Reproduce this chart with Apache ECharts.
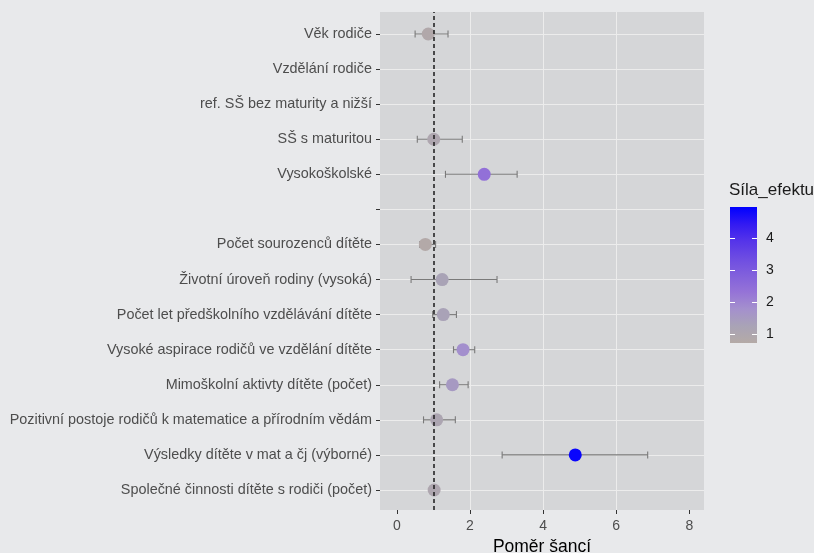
<!DOCTYPE html>
<html>
<head>
<meta charset="utf-8">
<script src="https://cdn.jsdelivr.net/npm/echarts@6/dist/echarts.min.js"></script>
<style>
html,body{margin:0;padding:0;background:#e8e9eb;}
#c{width:814px;height:553px;}
</style>
</head>
<body>
<div id="c"></div>
<script>
const categories = [
  'Věk rodiče',
  'Vzdělání rodiče',
  'ref. SŠ bez maturity a nižší',
  'SŠ s maturitou',
  'Vysokoškolské',
  '',
  'Počet sourozenců dítěte',
  'Životní úroveň rodiny (vysoká)',
  'Počet let předškolního vzdělávání dítěte',
  'Vysoké aspirace rodičů ve vzdělání dítěte',
  'Mimoškolní aktivty dítěte (počet)',
  'Pozitivní postoje rodičů k matematice a přírodním vědám',
  'Výsledky dítěte v mat a čj (výborné)',
  'Společné činnosti dítěte s rodiči (počet)'
];
const oddsRatio = [0.86, null, null, 1.01, 2.39, null, 0.78, 1.24, 1.27, 1.81, 1.52, 1.09, 4.88, 1.02];
const ciLow     = [0.50, null, null, 0.56, 1.33, null, 0.63, 0.39, 0.98, 1.55, 1.17, 0.73, 2.88, 0.95];
const ciHigh    = [1.40, null, null, 1.79, 3.29, null, 1.06, 2.74, 1.63, 2.13, 1.95, 1.60, 6.86, 1.10];
const effectStrength = [0.86, null, null, 1.01, 2.39, null, 0.78, 1.24, 1.27, 1.81, 1.52, 1.09, 4.88, 1.02];
const xTicks = [0, 2, 4, 6, 8];
const legendTicks = [1, 2, 3, 4];
const referenceLine = 1;
const xTitle = 'Poměr šancí';
const legendTitle = 'Síla_efektu';
const effectMin = 0.72, effectMax = 4.98;
const xMin = -0.46, xMax = 8.40;

const effectColors = ['#b4aaa6', '#a9a3b6', '#a490cd', '#9573d7', '#8160dc', '#6d4ce2', '#5534e9', '#321af2', '#0000ff'];

const FONT = '"Liberation Sans", Arial, sans-serif';

const pointData = [];
const barData = [];
categories.forEach((c, i) => {
  if (oddsRatio[i] != null) {
    pointData.push([oddsRatio[i], c, effectStrength[i]]);
    barData.push([ciLow[i], ciHigh[i], c]);
  }
});

const gradStops = effectColors.slice().reverse().map((col, i, arr) => ({offset: i / (arr.length - 1), color: col}));

const chart = echarts.init(document.getElementById('c'), null, {renderer: 'canvas'});
chart.setOption({
  backgroundColor: '#e8e9eb',
  animation: false,
  textStyle: {fontFamily: FONT},
  title: {
    text: legendTitle,
    left: 729, top: 182, padding: 0,
    textStyle: {fontFamily: FONT, fontSize: 17, fontWeight: 'normal', color: '#1a1a1a'}
  },
  grid: [
    {left: 380, right: 110, top: 12, bottom: 43, show: true, backgroundColor: '#d5d6d8', borderWidth: 0, containLabel: false, outerBoundsMode: 'none'},
    {left: 380, right: 110, top: 34, bottom: 63, containLabel: false, outerBoundsMode: 'none'},
    {left: 730, width: 27, top: 207, height: 136, show: true, borderWidth: 0, outerBoundsMode: 'none',
     backgroundColor: {type: 'linear', x: 0, y: 0, x2: 0, y2: 1, colorStops: gradStops}}
  ],
  xAxis: [
    {gridIndex: 0, type: 'value', min: xMin, max: xMax, position: 'bottom',
     name: xTitle, nameLocation: 'middle', nameGap: 25,
     nameTextStyle: {fontFamily: FONT, fontSize: 17.5, color: '#000'},
     axisLine: {show: false, onZero: false},
     axisTick: {show: true, length: 4, customValues: xTicks, lineStyle: {color: '#333', width: 1}},
     axisLabel: {show: true, customValues: xTicks, margin: 9, fontSize: 14, color: '#4d4d4d', fontFamily: FONT},
     splitLine: {show: true, showMinLine: false, showMaxLine: false, lineStyle: {color: '#ececec', width: 1}}
    },
    {gridIndex: 1, type: 'value', min: xMin, max: xMax, show: false, axisLine: {onZero: false}, splitLine: {show: false}},
    {gridIndex: 2, type: 'value', min: 0, max: 1, show: false, axisLine: {onZero: false}, splitLine: {show: false}}
  ],
  yAxis: [
    {gridIndex: 0, type: 'value', min: 0, max: 1, show: false, axisLine: {onZero: false}, splitLine: {show: false}},
    {gridIndex: 1, type: 'category', data: categories, inverse: true, boundaryGap: false, position: 'left',
     axisLine: {show: false, onZero: false},
     axisTick: {show: true, length: 4, lineStyle: {color: '#333', width: 1}},
     axisLabel: {show: true, margin: 8, fontSize: 14.4, color: '#4d4d4d', fontFamily: FONT, interval: 0},
     splitLine: {show: true, interval: 0, lineStyle: {color: '#ececec', width: 1}}
    },
    {gridIndex: 2, type: 'value', min: effectMin, max: effectMax, position: 'right', z: 10,
     axisLine: {show: false, onZero: false},
     axisTick: {show: true, inside: true, length: 5, customValues: legendTicks, lineStyle: {color: '#ffffff', width: 1}},
     axisLabel: {show: true, customValues: legendTicks, margin: 9, fontSize: 14, color: '#1a1a1a', fontFamily: FONT},
     splitLine: {show: false}
    },
    {gridIndex: 2, type: 'value', min: effectMin, max: effectMax, position: 'left', z: 10,
     axisLine: {show: false, onZero: false},
     axisTick: {show: true, inside: true, length: 5, customValues: legendTicks, lineStyle: {color: '#ffffff', width: 1}},
     axisLabel: {show: false},
     splitLine: {show: false}
    }
  ],
  visualMap: {
    show: false, type: 'continuous', min: effectMin, max: effectMax,
    dimension: 2, seriesIndex: 2,
    inRange: {color: effectColors}
  },
  series: [
    {type: 'line', xAxisIndex: 0, yAxisIndex: 0, data: [], silent: true,
     markLine: {silent: true, symbol: ['none', 'none'], label: {show: false},
       lineStyle: {color: '#1a1a1a', type: [4, 3], width: 1.5},
       data: [{xAxis: referenceLine}]}
    },
    {type: 'custom', xAxisIndex: 1, yAxisIndex: 1, silent: true, z: 3,
     data: barData,
     encode: {x: [0, 1], y: 2},
     renderItem: function (params, api) {
       const y = api.value(2);
       const p0 = api.coord([api.value(0), y]);
       const p1 = api.coord([api.value(1), y]);
       const h = 3.5;
       const st = {stroke: '#7a7a7a', lineWidth: 1.1, fill: null};
       return {type: 'group', children: [
         {type: 'line', shape: {x1: p0[0], y1: p0[1], x2: p1[0], y2: p1[1]}, style: st},
         {type: 'line', shape: {x1: p0[0], y1: p0[1] - h, x2: p0[0], y2: p0[1] + h}, style: st},
         {type: 'line', shape: {x1: p1[0], y1: p1[1] - h, x2: p1[0], y2: p1[1] + h}, style: st}
       ]};
     }
    },
    {type: 'scatter', xAxisIndex: 1, yAxisIndex: 1, z: 4, symbol: 'circle', symbolSize: 13,
     data: pointData, encode: {x: 0, y: 1},
     itemStyle: {opacity: 1, borderWidth: 0}
    }
  ]
});
</script>
</body>
</html>
